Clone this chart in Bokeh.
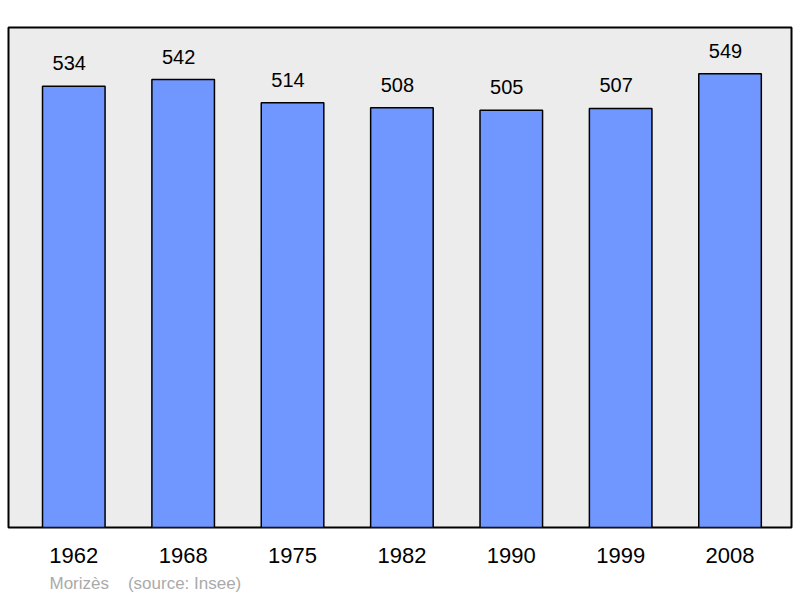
from bokeh.core.properties import value
from bokeh.embed import file_html
from bokeh.models import ColumnDataSource, FixedTicker, Range1d, Title
from bokeh.plotting import figure
from bokeh.resources import INLINE

years = ["1962", "1968", "1975", "1982", "1990", "1999", "2008"]
population = [534, 542, 514, 508, 505, 507, 549]
credit = "Morizès\u00a0\u00a0\u00a0\u00a0(source: Insee)"

FONT = "Liberation Sans"

idx = list(range(len(years)))
source = ColumnDataSource(data=dict(x=idx, top=population, label=[str(v) for v in population]))

p = figure(width=800, height=598, output_backend="svg", toolbar_location=None,
           x_range=Range1d(-0.597, 6.562), y_range=Range1d(0, 605),
           y_axis_location=None, tools="")
p.min_border_left = 8
p.min_border_right = 9
p.min_border_top = 27
p.min_border_bottom = 70

p.background_fill_color = "#ececec"
p.border_fill_color = "white"
p.outline_line_color = "black"
p.outline_line_width = 2
p.xgrid.grid_line_color = None
p.ygrid.grid_line_color = None

p.vbar(x="x", top="top", bottom=0, width=0.572, source=source,
       fill_color="#7096ff", line_color="black", line_width=1.5)

p.text(x="x", y="top", text="label", source=source, x_offset=-4.5, y_offset=-23,
       text_align="center", text_baseline="alphabetic",
       text_font=value(FONT), text_font_size="20px", text_color="black")

xa = p.xaxis[0]
xa.ticker = FixedTicker(ticks=idx)
xa.major_label_overrides = {i: y for i, y in zip(idx, years)}
xa.axis_line_color = None
xa.major_tick_line_color = None
xa.minor_tick_line_color = None
xa.major_tick_out = 0
xa.major_tick_in = 0
xa.major_label_standoff = 20
xa.major_label_text_font = FONT
xa.major_label_text_font_size = "22px"
xa.major_label_text_color = "black"

p.add_layout(Title(text=credit, align="left", offset=41, standoff=12,
                   text_font=FONT, text_font_size="17px", text_font_style="normal",
                   text_color="#aaaaaa"), "below")

open("out.html", "w").write(file_html(p, INLINE))
